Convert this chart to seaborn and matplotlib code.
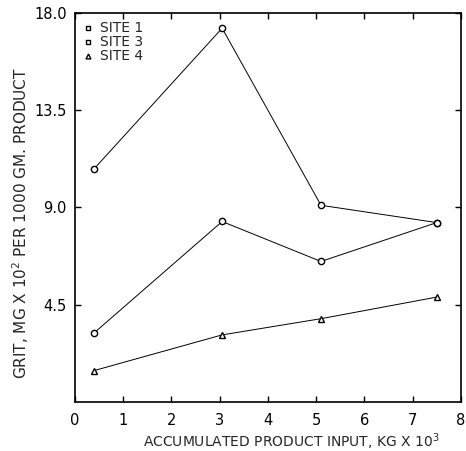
import matplotlib
matplotlib.use("Agg")
import matplotlib.pyplot as plt
import seaborn as sns
import pandas as pd

# Data (grit in mg x 10^2 per 1000 gm product)
product_input = [0.4, 3.05, 5.1, 7.5]
site1 = [10.8, 17.3, 9.1, 8.3]
site3 = [3.2, 8.35, 6.5, 8.3]
site4 = [1.45, 3.1, 3.85, 4.85]
series_names = ["SITE 1", "SITE 3", "SITE 4"]
y_ticks = [4.5, 9.0, 13.5, 18.0]
y_tick_labels = ["4.5", "9.0", "13.5", "18.0"]
x_ticks = [0, 1, 2, 3, 4, 5, 6, 7, 8]

rows = []
for name, vals in zip(series_names, [site1, site3, site4]):
    for x, y in zip(product_input, vals):
        rows.append({"x": x, "y": y, "site": name})
df = pd.DataFrame(rows)

sns.set_style("white")
plt.rcParams['font.family'] = ['DejaVu Sans']

fig = plt.figure(figsize=(4.66, 4.51), dpi=100)
ax = fig.add_axes([0.161, 0.109, 0.828, 0.862])

sns.lineplot(data=df, x="x", y="y", hue="site", style="site",
             palette={n: "black" for n in series_names},
             markers={"SITE 1": "o", "SITE 3": "o", "SITE 4": "^"},
             dashes=False, linewidth=0.7, markersize=4.5,
             markerfacecolor="white", markeredgecolor="black",
             markeredgewidth=1.0, ax=ax, legend=True)

ax.set_xlim(0, 8)
ax.set_ylim(0, 18)
ax.set_xticks(x_ticks)
ax.set_xticklabels([str(t) for t in x_ticks], fontsize=10.5)
ax.set_yticks(y_ticks)
ax.set_yticklabels(y_tick_labels, fontsize=10.5)
ax.tick_params(direction="in", length=4, width=1, top=True, right=True,
               bottom=True, left=True, pad=8, colors="black")
ax.tick_params(axis="y", pad=6)
for s in ax.spines.values():
    s.set_visible(True)
    s.set_color("black")
    s.set_linewidth(1.2)

ax.set_xlabel("ACCUMULATED PRODUCT INPUT, KG X 10$^3$", fontsize=10)
ax.xaxis.set_label_coords(0.56, -0.075)
ax.set_ylabel("GRIT, MG X 10$^2$ PER 1000 GM. PRODUCT", fontsize=11)
ax.yaxis.set_label_coords(-0.115, 0.46)

handles, labels = ax.get_legend_handles_labels()
for h, lab in zip(handles, labels):
    if lab in ("SITE 1", "SITE 3"):
        h.set_marker("s")
    h.set_linestyle("none")
    h.set_markersize(3.5)
ax.legend(handles, labels, loc="upper left", frameon=False, fontsize=10,
          handlelength=0.7, handletextpad=0.5, labelspacing=0.0,
          borderaxespad=0.3, borderpad=0.3)

fig.savefig("out.png", dpi=100)
